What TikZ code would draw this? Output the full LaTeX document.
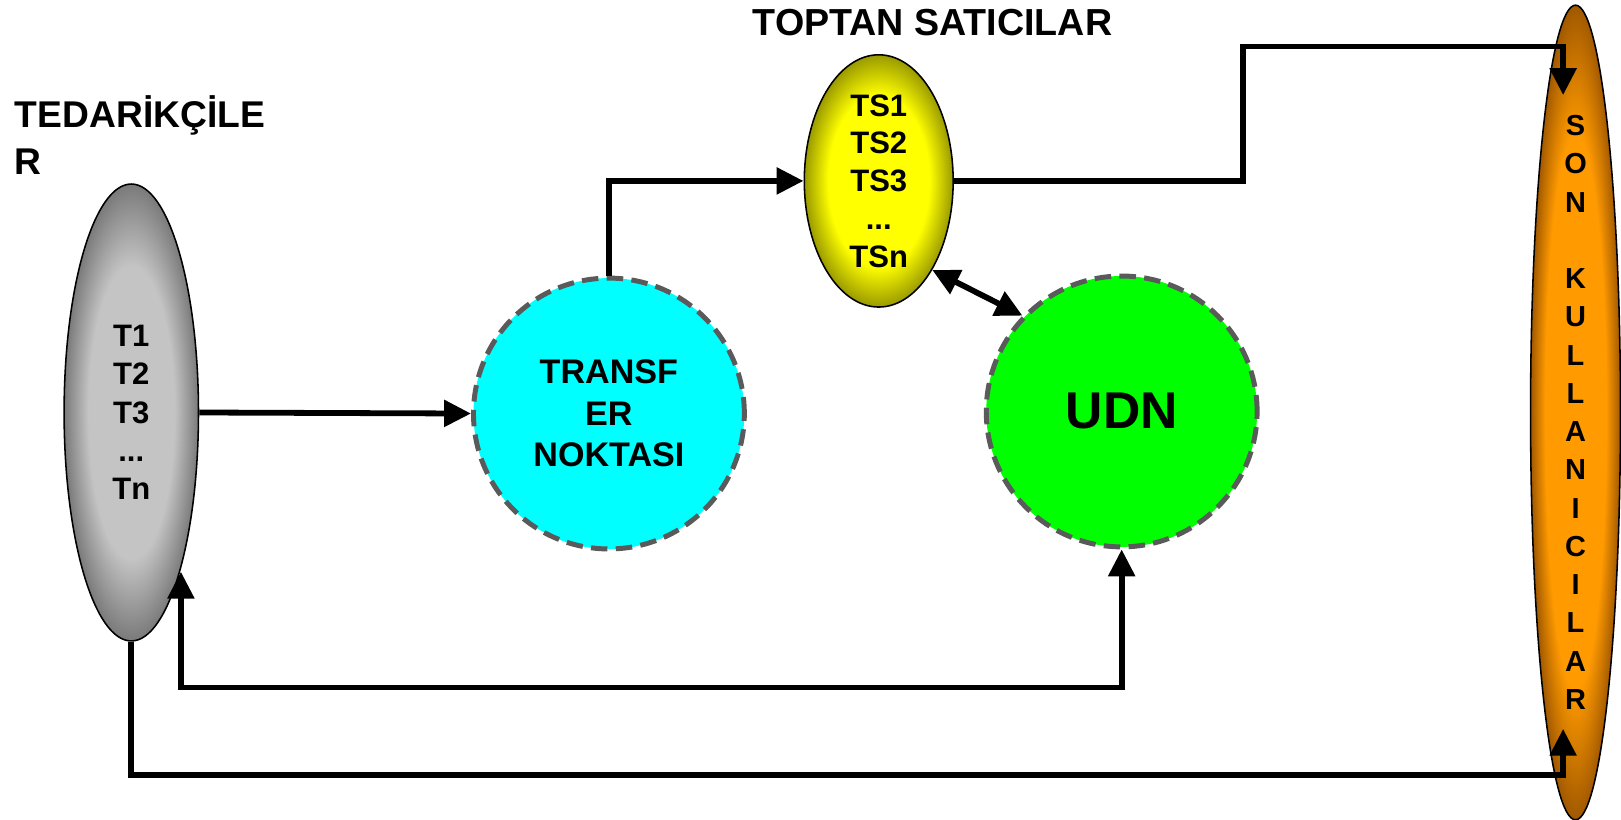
\documentclass[tikz,border=0pt]{standalone}
\usepackage{fontspec}
\setmainfont{Liberation Sans}
\usetikzlibrary{arrows.meta,shapes.geometric}

\definecolor{greyin}{HTML}{C4C4C4}
\definecolor{greyout}{HTML}{7A7A7A}
\definecolor{yellowin}{HTML}{FFFF00}
\definecolor{yellowout}{HTML}{9A9A00}
\definecolor{orangein}{HTML}{FF9A00}
\definecolor{orangeout}{HTML}{A05800}
\definecolor{hubline}{HTML}{5A5A5A}
\definecolor{transfercyan}{HTML}{00FFFF}
\definecolor{udngreen}{HTML}{00FF00}

\pgfdeclareradialshading{greyglow}{\pgfpointorigin}{color(0bp)=(greyin); color(16bp)=(greyin); color(25bp)=(greyout); color(50bp)=(greyout)}
\pgfdeclareradialshading{yellowglow}{\pgfpointorigin}{color(0bp)=(yellowin); color(17bp)=(yellowin); color(25bp)=(yellowout); color(50bp)=(yellowout)}
\pgfdeclareradialshading{orangeglow}{\pgfpointorigin}{color(0bp)=(orangein); color(17bp)=(orangein); color(25bp)=(orangeout); color(50bp)=(orangeout)}

\begin{document}
\begin{tikzpicture}[x=0.5pt,y=-0.5pt,
    conn/.style={line width=2.8pt,-{Triangle[length=13pt,width=12.5pt]}},
    conn2/.style={line width=2.8pt,{Triangle[length=13pt,width=12.5pt]}-{Triangle[length=13pt,width=12.5pt]}},
    pod/.style={ellipse,draw=black,line width=0.75pt,inner sep=0pt,align=center},
    hub/.style={circle,draw=hubline,line width=2.4pt,dash pattern=on 8pt off 4pt,
      minimum size=131pt,inner sep=0pt,align=center},
    title/.style={inner sep=0pt,font=\bfseries\fontsize{18.2}{23}\selectfont}]
  \useasboundingbox (0,0) rectangle (1568,793);

  % titles
  \node[title,align=left,anchor=north west,font=\bfseries\fontsize{18}{23}\selectfont]
    (tedtitle) at (14,92) {TEDARİKÇİLE\\R};
  \node[title] (toptantitle) at (902,22) {TOPTAN SATICILAR};

  % the five blocks
  \node[pod,shading=greyglow,minimum width=65pt,minimum height=221pt,
    font=\bfseries\fontsize{15}{18.5}\selectfont]
    (ted) at (127,399) {T1\\T2\\T3\\...\\Tn};
  \node[hub,fill=transfercyan,font=\bfseries\fontsize{16.5}{20}\selectfont]
    (transfer) at (589,400) {TRANSF\\ER\\NOKTASI};
  \node[pod,shading=yellowglow,minimum width=72pt,minimum height=122pt,
    font=\bfseries\fontsize{15}{18.25}\selectfont]
    (toptan) at (850,175) {TS1\\TS2\\TS3\\...\\TSn};
  \node[hub,fill=udngreen,font=\bfseries\fontsize{25}{30}\selectfont]
    (udn) at (1085,398) {UDN};
  \node[pod,shading=orangeglow,minimum width=43.5pt,minimum height=394pt]
    (son) at (1524,399) {};
  \node[align=center,inner sep=0pt,font=\bfseries\fontsize{14}{18.5}\selectfont]
    (sontext) at (son) {S\\O\\N\\[18.5pt]K\\U\\L\\L\\A\\N\\I\\C\\I\\L\\A\\R};

  % corner points of the long runs
  \coordinate (ntop) at (1202,45);
  \coordinate (sonin) at (1512,92);
  \coordinate (sonbot) at (1512,705);
  \coordinate (botrun) at (127,750);
  \coordinate (tedin) at (175,553);
  \coordinate (midlow) at (175,665);

  % connectors
  \draw[conn] (ted.east) -- (transfer.west);
  \draw[conn] (transfer.north) |- (toptan.west);
  \draw[conn] (toptan.east) -| (ntop) -| (sonin);
  \draw[conn2] (toptan.-59) -- (udn.136);
  \draw[conn2] (tedin) -- (midlow) -| (udn.south);
  \draw[conn] (ted.south) -- (botrun) -| (sonbot);
\end{tikzpicture}
\end{document}
